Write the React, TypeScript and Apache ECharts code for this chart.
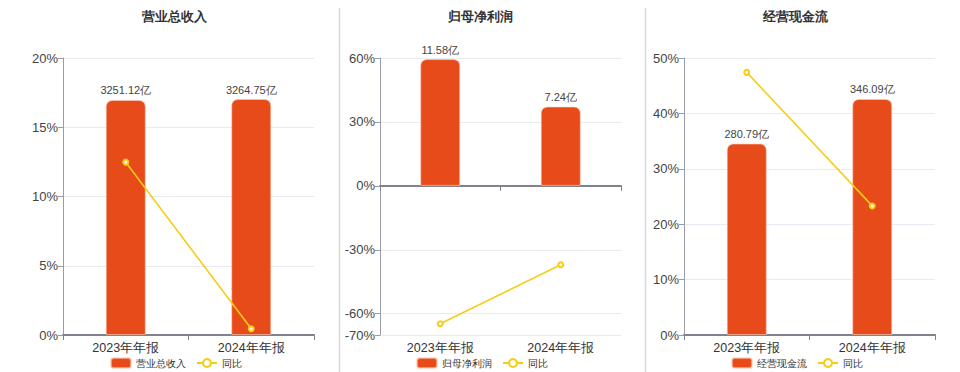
import React, { useEffect, useRef } from "react";
import * as echarts from "echarts";

const categories = ["2023年年报", "2024年年报"];
const panelTitles = ["营业总收入", "归母净利润", "经营现金流"];
const revenueValues = [3251.12, 3264.75];
const revenueYoY = [12.48, 0.45];
const profitValues = [11.58, 7.24];
const profitYoY = [-64.7, -37.0];
const cashValues = [280.79, 346.09];
const cashYoY = [47.4, 23.3];

const BAR_COLOR = "#E84B1A";
const LINE_COLOR = "#F6CD14";

export default function App() {
  const ref = useRef<HTMLDivElement>(null);
  useEffect(() => {
    if (!ref.current) return;
    const chart = echarts.init(ref.current, null, { renderer: "svg" });

    const grids = [
      { left: 63, top: 58, width: 251, height: 277, outerBoundsMode: "none", containLabel: false },
      { left: 380, top: 58, width: 241, height: 277, outerBoundsMode: "none", containLabel: false },
      { left: 684, top: 58, width: 251, height: 277, outerBoundsMode: "none", containLabel: false },
    ];
    const centers = [174, 480, 795];
    const legendLefts = [110, 416, 731];
    const barData = [revenueValues, profitValues, cashValues];
    const lineData = [revenueYoY, profitYoY, cashYoY];
    const pctAxes = [
      { min: 0, max: 20, interval: 5 },
      { min: -70, max: 60 },
      { min: 0, max: 50, interval: 10 },
    ];
    const barAxes = [
      { min: 0, max: 3832 },
      { min: -13.63, max: 11.68 },
      { min: 0, max: 406.2 },
    ];

    const xAxis: any[] = [];
    const yAxis: any[] = [];
    const series: any[] = [];
    const title: any[] = [];
    const legend: any[] = [];

    for (let i = 0; i < 3; i++) {
      xAxis.push({
        type: "category",
        gridIndex: i,
        position: "bottom",
        data: categories,
        axisLine: { onZero: true, lineStyle: { color: "#80838c", width: 2 } },
        axisTick: { show: true, lineStyle: { color: "#80838c" } },
        axisLabel: { show: i !== 1, color: "#333", fontSize: 12.5, margin: 6 },
      });
      yAxis.push({
        type: "value",
        gridIndex: i,
        ...pctAxes[i],
        axisLine: { show: true, lineStyle: { color: "#9a9ca3" } },
        axisTick: { show: true, lineStyle: { color: "#9a9ca3" } },
        axisLabel: { color: "#444", fontSize: 13, formatter: "{value}%", margin: 5 },
        splitLine: { lineStyle: { color: "#E6EAF2" } },
      });
      yAxis.push({
        type: "value",
        gridIndex: i,
        ...barAxes[i],
        show: false,
        splitLine: { show: false },
      });
      series.push({
        name: panelTitles[i],
        type: "bar",
        xAxisIndex: i,
        yAxisIndex: i * 2 + 1,
        data: barData[i],
        barWidth: 40,
        itemStyle: {
          color: BAR_COLOR,
          borderRadius: [6, 6, 0, 0],
          borderColor: "rgba(255,200,180,0.6)",
          borderWidth: 1,
        },
        label: {
          show: true,
          position: "top",
          distance: 4,
          color: "#444",
          fontSize: 11,
          formatter: (p: any) => Number(p.value).toFixed(2) + "亿",
        },
      });
      series.push({
        name: "同比",
        type: "line",
        xAxisIndex: i,
        yAxisIndex: i * 2,
        data: lineData[i],
        symbol: "emptyCircle",
        symbolSize: 5,
        lineStyle: { color: LINE_COLOR, width: 1.6 },
        itemStyle: { color: LINE_COLOR, borderWidth: 1.5 },
        z: 5,
      });
      title.push({
        text: panelTitles[i],
        left: centers[i],
        top: 10,
        textAlign: "center",
        padding: 0,
        textStyle: { fontSize: 13, fontWeight: "bold", color: "#333" },
      });
      legend.push({
        data: [panelTitles[i], "同比"],
        left: legendLefts[i],
        top: 357,
        padding: 0,
        itemWidth: 20,
        itemHeight: 10,
        itemGap: 10,
        textStyle: { fontSize: 10, color: "#333" },
      });
    }

    // label-only category axis at the bottom of the middle panel
    xAxis.push({
      type: "category",
      gridIndex: 1,
      position: "bottom",
      data: categories,
      axisLine: { show: false, onZero: false },
      axisTick: { show: false },
      splitLine: { show: false },
      axisLabel: { show: true, color: "#333", fontSize: 12.5, margin: 6 },
    });

    chart.setOption({
      animation: false,
      backgroundColor: "#fff",
      title,
      legend,
      grid: grids,
      xAxis,
      yAxis,
      series,
      graphic: [
        { type: "line", shape: { x1: 339.5, y1: 8, x2: 339.5, y2: 372 }, style: { stroke: "#d8d8d8", lineWidth: 1.5 } },
        { type: "line", shape: { x1: 645.5, y1: 8, x2: 645.5, y2: 372 }, style: { stroke: "#d8d8d8", lineWidth: 1.5 } },
      ],
    });
    return () => chart.dispose();
  }, []);
  return (
    <div
      ref={ref}
      style={{ position: "absolute", left: 0, top: 0, width: 960, height: 372 }}
    />
  );
}
